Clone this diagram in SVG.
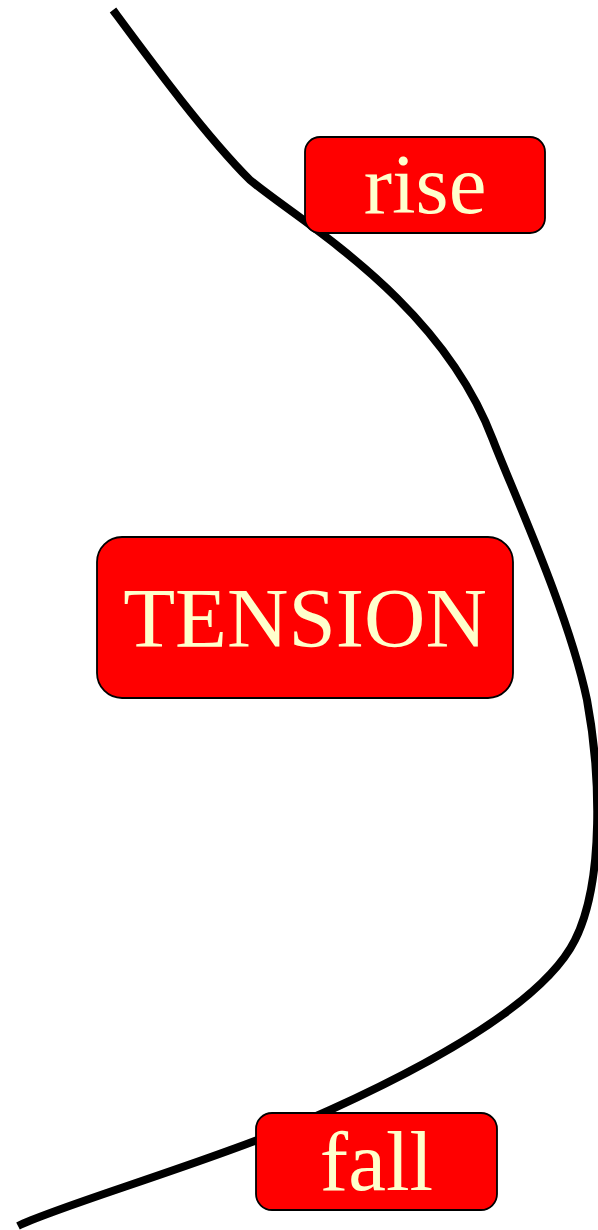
<svg xmlns="http://www.w3.org/2000/svg" width="598" height="1230" viewBox="0 0 598 1230">
<style>
.node rect{fill:#ff0000;stroke:#000;stroke-width:1.8}
.node text{font-family:"Liberation Serif","Times New Roman",serif;font-size:85px;fill:#ffffcc;text-anchor:middle}
.edge{fill:none;stroke:#000;stroke-width:8}
</style>
<rect width="598" height="1230" fill="#fff"/>
<g id="connectors">
<path class="edge" d="M113,10 C150,60 205,135 250,180 C300,222 440,300 493,440 C510,485 568,610 587,700 C600,770 605,880 575,940 C545,1000 440,1060 330,1110 C225,1158 60,1205 18,1226"/>
</g>
<g id="rise" class="node">
<rect x="305" y="137" width="240" height="96" rx="15" ry="15"/>
<text x="425" y="213">rise</text>
</g>
<g id="tension" class="node">
<rect x="97" y="537" width="416" height="161" rx="25" ry="25"/>
<text x="305" y="647">TENSION</text>
</g>
<g id="fall" class="node">
<rect x="256" y="1113" width="241" height="97" rx="16" ry="16"/>
<text x="376.5" y="1190">fall</text>
</g>
</svg>
